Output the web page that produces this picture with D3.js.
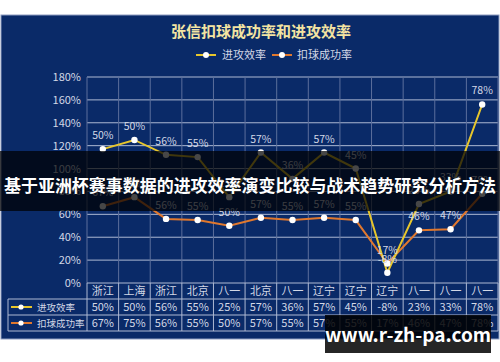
<!DOCTYPE html>
<html>
<head>
<meta charset="utf-8">
<script src="https://cdn.jsdelivr.net/npm/d3@7/dist/d3.min.js"></script>
<style>
  html, body { margin: 0; padding: 0; background: #ffffff; }
  svg { display: block; }
  text { font-family: "Noto Sans CJK SC", "Noto Sans", sans-serif; }
</style>
</head>
<body>
<svg id="chart" width="500" height="362"></svg>
<script>
// Opponents per game
const categories = ["浙江", "上海", "浙江", "北京", "八一", "北京", "八一", "辽宁", "辽宁", "辽宁", "八一", "八一", "八一"];
// 进攻效率 (%)
const efficiency = [50, 50, 56, 55, 25, 57, 36, 57, 45, -8, 23, 33, 78];
// 扣球成功率 (%)
const spikeRate = [67, 75, 56, 55, 50, 57, 55, 57, 55, 17, 46, 47, 78];
const yTicks = [0, 20, 40, 60, 80, 100, 120, 140, 160, 180];
const seriesColors = { "进攻效率": "#e7c62c", "扣球成功率": "#e0782e" };

const svg = d3.select("#chart");
const W = 500;
const bg = "#0a2a68";
const gridColor = "#aeb9d3";
const textColor = "#d3d8e6";

// Chart panel
svg.append("rect").attr("x", 1).attr("y", 15).attr("width", 498).attr("height", 324)
  .attr("fill", bg).attr("stroke", "#8d9cc0").attr("stroke-width", 1);

// Title
svg.append("text").attr("x", 261).attr("y", 37).attr("text-anchor", "middle")
  .attr("font-size", 15).attr("font-weight", "bold").attr("fill", "#f3e4a2")
  .text("张信扣球成功率和进攻效率");

// Stacked data: 扣球成功率 at the bottom, 进攻效率 stacked on top
const rows = categories.map((c, i) => ({ i, "扣球成功率": spikeRate[i], "进攻效率": efficiency[i] }));
const stacked = d3.stack().keys(["扣球成功率", "进攻效率"]).offset(d3.stackOffsetNone)(rows);

const plotL = 87, plotR = 498, plotT = 77, plotB = 283;
const x = d3.scaleBand().domain(d3.range(categories.length)).range([plotL, plotR]);
const y = d3.scaleLinear().domain([0, 180]).range([plotB, plotT]);

// Horizontal grid + y tick labels
const gy = svg.append("g");
gy.selectAll("line").data(yTicks.filter(t => t > 0)).join("line")
  .attr("x1", plotL).attr("x2", plotR)
  .attr("y1", d => y(d)).attr("y2", d => y(d))
  .attr("stroke", gridColor).attr("stroke-width", 1);
gy.selectAll("text").data(yTicks).join("text")
  .attr("x", 81).attr("y", d => y(d) + 4).attr("text-anchor", "end")
  .attr("font-size", 11).attr("fill", textColor)
  .text(d => d + "%");

// Vertical grid lines at category boundaries
const bounds = d3.range(categories.length + 1).map(i => plotL + i * x.step());
svg.append("g").selectAll("line").data(bounds).join("line")
  .attr("x1", d => d).attr("x2", d => d).attr("y1", plotT).attr("y2", plotB)
  .attr("stroke", "#5c6f9c").attr("stroke-width", 1);

// Lines, markers, labels
const line = d3.line().x((d, i) => x(i) + x.bandwidth() / 2).y(d => y(d[1]));
stacked.forEach(s => {
  svg.append("path").datum(s).attr("d", line)
    .attr("fill", "none").attr("stroke", seriesColors[s.key]).attr("stroke-width", 2);
});
stacked.forEach(s => {
  const key = s.key;
  const g = svg.append("g");
  g.selectAll("circle").data(s).join("circle")
    .attr("cx", (d, i) => x(i) + x.bandwidth() / 2).attr("cy", d => y(d[1]))
    .attr("r", 3.2).attr("fill", "#ffffff");
  g.selectAll("text").data(s).join("text")
    .attr("x", (d, i) => x(i) + x.bandwidth() / 2).attr("y", d => y(d[1]) - 10)
    .attr("text-anchor", "middle").attr("font-size", 10.5).attr("fill", textColor)
    .text(d => d.data[key] + "%");
});

// Legend
const legend = [
  { name: "进攻效率", lx: 196, tx: 222 },
  { name: "扣球成功率", lx: 272, tx: 297 }
];
legend.forEach(l => {
  svg.append("line").attr("x1", l.lx).attr("x2", l.lx + 20).attr("y1", 55).attr("y2", 55)
    .attr("stroke", seriesColors[l.name]).attr("stroke-width", 2);
  svg.append("circle").attr("cx", l.lx + 10).attr("cy", 55).attr("r", 3).attr("fill", "#fff");
  svg.append("text").attr("x", l.tx).attr("y", 59).attr("font-size", 11).attr("fill", textColor).text(l.name);
});

// Data table
const rowY = [283, 299, 315, 331];
const tbl = svg.append("g");
const tableLeft = 8;
tbl.append("line").attr("x1", plotL).attr("x2", plotR).attr("y1", rowY[0]).attr("y2", rowY[0]).attr("stroke", gridColor);
[1, 2, 3].forEach(r => tbl.append("line").attr("x1", tableLeft).attr("x2", plotR)
  .attr("y1", rowY[r]).attr("y2", rowY[r]).attr("stroke", gridColor));
tbl.selectAll("line.v").data(bounds).join("line").attr("class", "v")
  .attr("x1", d => d).attr("x2", d => d).attr("y1", rowY[0]).attr("y2", rowY[3]).attr("stroke", gridColor);
tbl.append("line").attr("x1", tableLeft).attr("x2", tableLeft).attr("y1", rowY[1]).attr("y2", rowY[3]).attr("stroke", gridColor);

tbl.selectAll("text.cat").data(categories).join("text").attr("class", "cat")
  .attr("x", (d, i) => x(i) + x.bandwidth() / 2).attr("y", rowY[0] + 12)
  .attr("text-anchor", "middle").attr("font-size", 11).attr("fill", textColor).text(d => d);

const tableSeries = [{ name: "进攻效率", vals: efficiency }, { name: "扣球成功率", vals: spikeRate }];
tableSeries.forEach((s, r) => {
  const yy = rowY[r + 1];
  tbl.append("line").attr("x1", 11).attr("x2", 32).attr("y1", yy + 8).attr("y2", yy + 8)
    .attr("stroke", seriesColors[s.name]).attr("stroke-width", 2);
  tbl.append("circle").attr("cx", 21).attr("cy", yy + 8).attr("r", 2.6).attr("fill", "#fff");
  tbl.append("text").attr("x", 37).attr("y", yy + 12).attr("font-size", 9.5).attr("fill", textColor).text(s.name);
  tbl.selectAll("text.v" + r).data(s.vals).join("text").attr("class", "v" + r)
    .attr("x", (d, i) => x(i) + x.bandwidth() / 2).attr("y", yy + 12)
    .attr("text-anchor", "middle").attr("font-size", 11).attr("fill", textColor).text(d => d + "%");
});

// Headline band across the chart
svg.append("rect").attr("x", 0).attr("y", 151).attr("width", W).attr("height", 60)
  .attr("fill", "#000000").attr("opacity", 0.72);
svg.append("text").attr("x", 250).attr("y", 192).attr("text-anchor", "middle")
  .attr("font-size", 17).attr("font-weight", "bold").attr("fill", "#ffffff")
  .attr("textLength", 492).attr("lengthAdjust", "spacingAndGlyphs")
  .text("基于亚洲杯赛事数据的进攻效率演变比较与战术趋势研究分析方法");

// Site mark
svg.append("rect").attr("x", 325).attr("y", 315).attr("width", 166).attr("height", 38)
  .attr("fill", "#000000").attr("opacity", 0.85);
svg.append("text").attr("x", 408).attr("y", 342).attr("text-anchor", "middle")
  .attr("font-size", 19).attr("font-weight", "bold").attr("fill", "#ffffff")
  .attr("font-family", "'DejaVu Sans', sans-serif")
  .text("www.r-zh-pa.com");
</script>
</body>
</html>
